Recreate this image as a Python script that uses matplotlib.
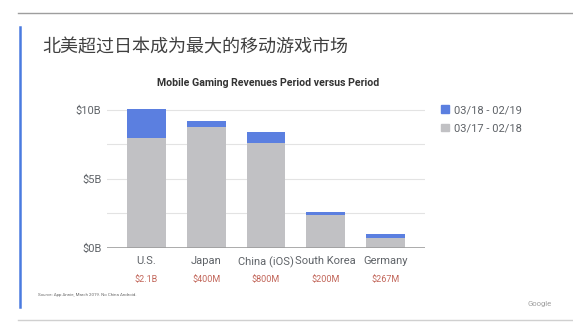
import matplotlib.pyplot as plt
from matplotlib.patches import Patch
from matplotlib.lines import Line2D

countries = ['U.S.', 'Japan', 'China (iOS)', 'South Korea', 'Germany']
prev_period = [8.0, 8.8, 7.6, 2.4, 0.73]      # 03/17 - 02/18, $B
growth = [2.1, 0.4, 0.8, 0.2, 0.267]          # added in 03/18 - 02/19, $B
growth_labels = ['$2.1B', '$400M', '$800M', '$200M', '$267M']
legend_labels = ['03/18 - 02/19', '03/17 - 02/18']
yticks = [0, 5, 10]
ytick_labels = ['$0B', '$5B', '$10B']

W, H = 573, 336
BLUE = '#5b7fe0'
GREY = '#c1c1c4'
TXT = '#5f6368'

plt.rcParams['font.family'] = ['Roboto', 'DejaVu Sans']

fig = plt.figure(figsize=(W / 100, H / 100), dpi=100)

def fx(px):
    return px / W

def fy(py):
    return 1 - py / H

# slide decorations
fig.add_artist(Line2D([fx(18), 1], [fy(13), fy(13)], color='#9e9e9e', lw=1))
fig.add_artist(Line2D([fx(18), 1], [fy(320), fy(320)], color='#d0d0d0', lw=1))
fig.add_artist(Line2D([fx(19.5), fx(19.5)], [fy(27), fy(307)], color='#4a7be0', lw=1.8))

fig.text(fx(42), fy(48), '北美超过日本成为最大的移动游戏市场', fontsize=13, color='#404040',
         family=['Noto Sans CJK SC', 'DejaVu Sans'], va='center', ha='left')
fig.text(fx(268), fy(83), 'Mobile Gaming Revenues Period versus Period', fontsize=7.6,
         fontweight='bold', color='#333333', ha='center', va='center')

ax = fig.add_axes([fx(107), fy(248), fx(425) - fx(107), (248 - 106.5) / H])
x = range(len(countries))
ax.bar(x, prev_period, width=0.65, color=GREY, zorder=2)
ax.bar(x, growth, bottom=prev_period, width=0.65, color=BLUE, zorder=2)

ax.set_xlim(-0.66, len(countries) - 1 + 0.66)
ax.set_ylim(0, 10.25)
ax.set_yticks(yticks)
ax.set_yticklabels(ytick_labels)
ax.set_yticks([2.5, 7.5], minor=True)
ax.grid(axis='y', which='both', color='#e3e3e3', lw=0.8, zorder=0)
ax.axhline(0, color='#9e9e9e', lw=1.2, zorder=3)
for s in ax.spines.values():
    s.set_visible(False)
ax.tick_params(axis='both', which='both', length=0, labelsize=8, colors=TXT)
ax.tick_params(axis='y', pad=4)
ax.tick_params(axis='x', pad=6)
ax.set_xticks(list(x))
ax.set_xticklabels(countries)

for i, lab in enumerate(growth_labels):
    ax.text(i, -0.225, lab, transform=ax.get_xaxis_transform(), ha='center', va='center',
            fontsize=6.5, color='#c2665a')

handles = [Patch(color=BLUE), Patch(color=GREY)]
fig.legend(handles, legend_labels, loc='upper left', bbox_to_anchor=(fx(431), fy(95)),
           frameon=False, handlelength=0.7, handleheight=0.7, handletextpad=0.5,
           labelspacing=0.75, fontsize=8, labelcolor=TXT)

fig.text(fx(38), fy(295), 'Source: App Annie, March 2019. No China Android.', fontsize=3.2,
         color='#666666', va='center')
fig.text(fx(540), fy(304), 'Google', fontsize=5.5, color='#9e9e9e', ha='center', va='center')

fig.savefig('out.png', dpi=100)
